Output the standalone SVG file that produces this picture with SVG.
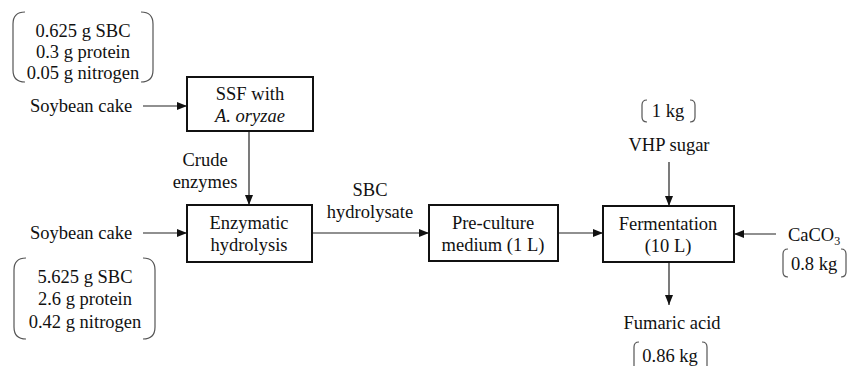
<svg xmlns="http://www.w3.org/2000/svg" width="856" height="366" viewBox="0 0 856 366">
<style>
text{font-family:"Liberation Serif","Times New Roman",serif;font-size:18.5px;fill:#111;text-anchor:middle}
.box{fill:#fff;stroke:#111;stroke-width:2}
.ln{stroke:#222;stroke-width:1.2;fill:none}
.br{stroke:#555;stroke-width:1.2;fill:none}
</style>
<defs>
<marker id="ah" viewBox="0 0 10 10" refX="10" refY="5" markerWidth="10" markerHeight="10" markerUnits="userSpaceOnUse" orient="auto">
<path d="M0,1 L10,5 L0,9 Z" fill="#111"/>
</marker>
</defs>
<rect width="856" height="366" fill="#fff"/>
<g id="connectors">
<line class="ln" x1="143" y1="106" x2="187" y2="106" marker-end="url(#ah)"/>
<line class="ln" x1="249" y1="131" x2="249" y2="205" marker-end="url(#ah)"/>
<line class="ln" x1="143" y1="233" x2="187" y2="233" marker-end="url(#ah)"/>
<line class="ln" x1="312" y1="233" x2="429" y2="233" marker-end="url(#ah)"/>
<line class="ln" x1="558" y1="233" x2="603" y2="233" marker-end="url(#ah)"/>
<line class="ln" x1="669" y1="162" x2="669" y2="206" marker-end="url(#ah)"/>
<line class="ln" x1="776" y1="234" x2="734" y2="234" marker-end="url(#ah)"/>
<line class="ln" x1="669" y1="262" x2="669" y2="305" marker-end="url(#ah)"/>
<text x="205" y="166">Crude</text>
<text x="205" y="188">enzymes</text>
<text x="370" y="196">SBC</text>
<text x="370" y="218">hydrolysate</text>
</g>
<g id="input1">
<path class="br" d="M25,12 Q13,12 13,24 V70 Q13,82 25,82"/>
<path class="br" d="M141,12 Q153,12 153,24 V70 Q153,82 141,82"/>
<text x="83" y="37">0.625 g SBC</text>
<text x="83" y="58">0.3 g protein</text>
<text x="83" y="79">0.05 g nitrogen</text>
<text x="81" y="112">Soybean cake</text>
</g>
<g id="ssf">
<rect class="box" x="187" y="77" width="126" height="54"/>
<text x="250" y="100">SSF with</text>
<text x="250" y="122" font-style="italic">A. oryzae</text>
</g>
<g id="input2">
<text x="81" y="239">Soybean cake</text>
<path class="br" d="M26,258 Q14,258 14,270 V327 Q14,339 26,339"/>
<path class="br" d="M143,258 Q155,258 155,270 V327 Q155,339 143,339"/>
<text x="85" y="283">5.625 g SBC</text>
<text x="85" y="305">2.6 g protein</text>
<text x="85" y="328">0.42 g nitrogen</text>
</g>
<g id="enzymatic">
<rect class="box" x="187" y="205" width="125" height="57"/>
<text x="249" y="229">Enzymatic</text>
<text x="249" y="251">hydrolysis</text>
</g>
<g id="preculture">
<rect class="box" x="429" y="205" width="129" height="56"/>
<text x="493" y="229">Pre-culture</text>
<text x="493" y="251">medium (1 L)</text>
</g>
<g id="fermentation">
<rect class="box" x="603" y="206" width="131" height="56"/>
<text x="668" y="230">Fermentation</text>
<text x="668" y="252">(10 L)</text>
</g>
<g id="vhp">
<path class="br" d="M647,100 Q642,100 642,105 V117 Q642,122 647,122"/>
<path class="br" d="M690,100 Q695,100 695,105 V117 Q695,122 690,122"/>
<text x="668" y="117">1 kg</text>
<text x="669" y="151">VHP sugar</text>
</g>
<g id="caco3">
<text x="814" y="241">CaCO<tspan font-size="12" dy="4">3</tspan></text>
<path class="br" d="M788,249 Q783,249 783,254 V272 Q783,277 788,277"/>
<path class="br" d="M841,249 Q846,249 846,254 V272 Q846,277 841,277"/>
<text x="814" y="270">0.8 kg</text>
</g>
<g id="fumaric">
<text x="672" y="329">Fumaric acid</text>
<path class="br" d="M639,342 Q634,342 634,347 V366"/>
<path class="br" d="M702,342 Q707,342 707,347 V366"/>
<text x="670" y="362">0.86 kg</text>
</g>
</svg>
